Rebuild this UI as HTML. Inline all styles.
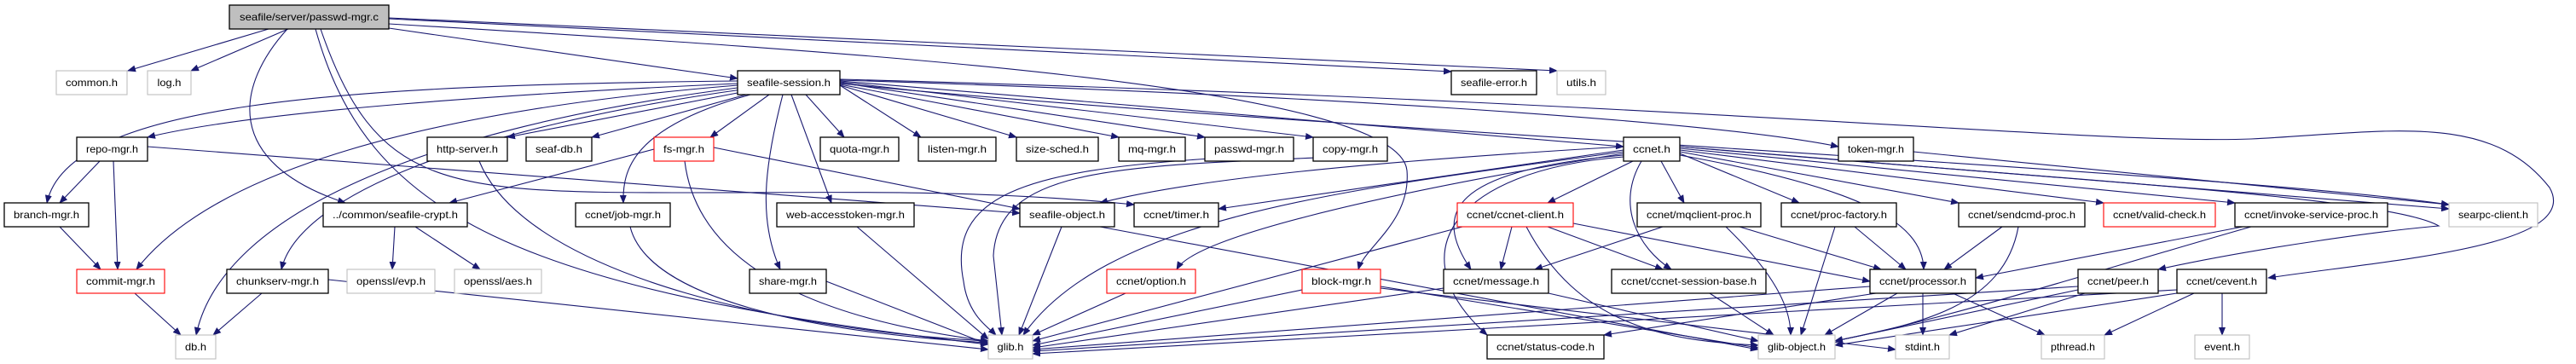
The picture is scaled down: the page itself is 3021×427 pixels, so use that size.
<!DOCTYPE html>
<html><head><meta charset="utf-8"><style>
html,body{margin:0;padding:0;background:#fff;width:3021px;height:427px;overflow:hidden}
svg{display:block}
text{font-family:"Liberation Sans",sans-serif;font-size:12px;fill:#000}
.e{fill:none;stroke:#191970;stroke-width:1.1;marker-end:url(#a)}
.n{fill:#fff;stroke:#000;stroke-width:1.3}
.r{fill:#fff;stroke:#ff0000;stroke-width:1.1}
.g{fill:#fff;stroke:#bfbfbf;stroke-width:1.1}
.m{fill:#bfbfbf;stroke:#000;stroke-width:1.3}
</style></head><body>
<svg width="3021" height="427" viewBox="0 0 3021 427" xmlns="http://www.w3.org/2000/svg">
<defs><marker id="a" markerUnits="userSpaceOnUse" markerWidth="10" markerHeight="8" refX="9" refY="4" orient="auto"><path d="M0,0 L10,4 L0,8 z" fill="#191970"/></marker></defs>
<g>
<path class="e" d="M315,34 L150,83"/>
<path class="e" d="M338,34 L224,83"/>
<path class="e" d="M337,34 C277,100 260,190 405,238"/>
<path class="e" d="M370,34 C430,250 600,340 1159,404"/>
<path class="e" d="M376,34 C440,220 520,226 800,226 C1000,226 1150,222 1330,240"/>
<path class="e" d="M456,33 L865,92"/>
<path class="e" d="M456,22 L1702,84"/>
<path class="e" d="M456,21 L1826,83"/>
<path class="e" d="M456,28 C1000,60 1640,100 1650,200 C1655,260 1600,290 1593,316"/>
<path class="e" d="M865,95 C400,100 80,120 55,238"/>
<path class="e" d="M865,98 C600,110 300,130 173,161"/>
<path class="e" d="M865,100 C500,130 250,200 160,316"/>
<path class="e" d="M865,103 C500,150 260,250 230,393"/>
<path class="e" d="M870,105 C550,150 350,230 330,316"/>
<path class="e" d="M870,108 L595,161"/>
<path class="e" d="M875,111 L694,161"/>
<path class="e" d="M902,111 L833,161"/>
<path class="e" d="M945,111 L990,161"/>
<path class="e" d="M880,111 C740,150 730,200 731,238"/>
<path class="e" d="M928,111 L975,238"/>
<path class="e" d="M918,111 C895,200 890,260 915,316"/>
<path class="e" d="M985,100 L1080,161"/>
<path class="e" d="M985,100 L1192,161"/>
<path class="e" d="M985,99 L1312,161"/>
<path class="e" d="M985,97 L1413,161"/>
<path class="e" d="M985,96 L1540,161"/>
<path class="e" d="M985,95 L1904,172"/>
<path class="e" d="M985,94 C1500,110 2000,140 2156,172"/>
<path class="e" d="M985,98 C1500,150 2600,200 2872,240"/>
<path class="e" d="M985,93 C2000,120 2450,170 2640,163 C2800,155 2920,130 2990,220 C3030,290 2800,305 2660,326"/>
<path class="e" d="M837,173 L1196,245"/>
<path class="e" d="M767,175 L527,238"/>
<path class="e" d="M803,189 C820,330 1000,380 1159,400"/>
<path class="e" d="M173,172 L1196,250"/>
<path class="e" d="M117,189 L70,238"/>
<path class="e" d="M133,189 L138,316"/>
<path class="e" d="M70,266 L118,316"/>
<path class="e" d="M158,344 L212,393"/>
<path class="e" d="M307,344 L250,393"/>
<path class="e" d="M385,328 L1159,410"/>
<path class="e" d="M463,266 L460,316"/>
<path class="e" d="M487,266 L563,316"/>
<path class="e" d="M562,189 C620,330 950,390 1159,400"/>
<path class="e" d="M739,266 C760,350 950,390 1159,402"/>
<path class="e" d="M969,330 L1159,404"/>
<path class="e" d="M1005,266 L1159,398"/>
<path class="e" d="M1245,266 L1195,393"/>
<path class="e" d="M1290,266 L2062,410"/>
<path class="e" d="M1420,186 C1200,200 1110,230 1130,330 C1135,370 1160,385 1168,393"/>
<path class="e" d="M1545,185 C1300,195 1170,200 1165,300 L1175,393"/>
<path class="e" d="M1904,176 L1429,245"/>
<path class="e" d="M1904,172 C1600,190 1400,210 1290,238"/>
<path class="e" d="M1904,180 C1600,230 1400,280 1380,316"/>
<path class="e" d="M1904,178 C1600,220 1300,250 1200,393"/>
<path class="e" d="M1915,189 L1815,238"/>
<path class="e" d="M1948,189 L1975,238"/>
<path class="e" d="M1904,182 C1700,200 1680,250 1725,316"/>
<path class="e" d="M1904,184 C1700,200 1640,300 1744,393"/>
<path class="e" d="M1925,189 C1895,240 1920,290 1960,316"/>
<path class="e" d="M1970,180 L2110,238"/>
<path class="e" d="M1970,178 L2297,238"/>
<path class="e" d="M1970,176 L2467,238"/>
<path class="e" d="M1970,174 L2621,238"/>
<path class="e" d="M1970,182 C2180,220 2255,260 2256,316"/>
<path class="e" d="M1970,172 C2300,200 2700,230 2872,245"/>
<path class="e" d="M1970,172 C2400,210 2800,230 2860,265 C2800,270 2650,290 2531,316"/>
<path class="e" d="M1773,266 L1760,316"/>
<path class="e" d="M1815,266 L1950,316"/>
<path class="e" d="M1845,262 L2193,330"/>
<path class="e" d="M1715,266 L1211,400"/>
<path class="e" d="M1790,266 C1850,380 1950,400 2062,405"/>
<path class="e" d="M1320,344 L1211,393"/>
<path class="e" d="M1527,340 L1211,405"/>
<path class="e" d="M1619,336 L2062,408"/>
<path class="e" d="M1619,338 L2223,410"/>
<path class="e" d="M1693,338 L1211,408"/>
<path class="e" d="M1816,344 L2062,400"/>
<path class="e" d="M1950,266 L1800,316"/>
<path class="e" d="M2040,266 L2206,316"/>
<path class="e" d="M2024,266 C2080,320 2100,360 2100,393"/>
<path class="e" d="M2005,344 L2080,393"/>
<path class="e" d="M2175,266 L2235,316"/>
<path class="e" d="M2152,266 L2112,393"/>
<path class="e" d="M2348,266 L2280,316"/>
<path class="e" d="M2367,266 C2350,360 2250,380 2152,400"/>
<path class="e" d="M2630,266 L2317,326"/>
<path class="e" d="M2640,266 C2450,320 2300,370 2152,400"/>
<path class="e" d="M2193,336 L1211,410"/>
<path class="e" d="M2225,344 L2140,393"/>
<path class="e" d="M2255,344 L2255,393"/>
<path class="e" d="M2290,344 L2398,393"/>
<path class="e" d="M2200,344 L1881,393"/>
<path class="e" d="M2437,336 L1211,412"/>
<path class="e" d="M2437,340 L2152,400"/>
<path class="e" d="M2445,344 L2286,393"/>
<path class="e" d="M2553,340 L1211,415"/>
<path class="e" d="M2553,344 L2152,405"/>
<path class="e" d="M2573,344 L2468,393"/>
<path class="e" d="M2606,344 L2606,393"/>
<path class="e" d="M2244,178 L2872,240"/>
</g>
<g>
<rect class="m" x="269" y="6" width="187" height="28"/><text x="362.5" y="24" text-anchor="middle" textLength="163" lengthAdjust="spacingAndGlyphs">seafile/server/passwd-mgr.c</text>
<rect class="g" x="66" y="83" width="83" height="28"/><text x="107.5" y="101" text-anchor="middle" textLength="61" lengthAdjust="spacingAndGlyphs">common.h</text>
<rect class="g" x="173" y="83" width="51" height="28"/><text x="198.5" y="101" text-anchor="middle" textLength="28" lengthAdjust="spacingAndGlyphs">log.h</text>
<rect class="n" x="865" y="83" width="120" height="28"/><text x="925" y="101" text-anchor="middle" textLength="98" lengthAdjust="spacingAndGlyphs">seafile-session.h</text>
<rect class="n" x="1702" y="83" width="100" height="28"/><text x="1752" y="101" text-anchor="middle" textLength="78" lengthAdjust="spacingAndGlyphs">seafile-error.h</text>
<rect class="g" x="1826" y="83" width="57" height="28"/><text x="1854.5" y="101" text-anchor="middle" textLength="35" lengthAdjust="spacingAndGlyphs">utils.h</text>

<rect class="n" x="90" y="161" width="83" height="28"/><text x="131.5" y="179" text-anchor="middle" textLength="61" lengthAdjust="spacingAndGlyphs">repo-mgr.h</text>
<rect class="n" x="501" y="161" width="94" height="28"/><text x="548" y="179" text-anchor="middle" textLength="72" lengthAdjust="spacingAndGlyphs">http-server.h</text>
<rect class="n" x="617" y="161" width="77" height="28"/><text x="655.5" y="179" text-anchor="middle" textLength="55" lengthAdjust="spacingAndGlyphs">seaf-db.h</text>
<rect class="r" x="767" y="161" width="70" height="28"/><text x="802" y="179" text-anchor="middle" textLength="48" lengthAdjust="spacingAndGlyphs">fs-mgr.h</text>
<rect class="n" x="962" y="161" width="92" height="28"/><text x="1008" y="179" text-anchor="middle" textLength="70" lengthAdjust="spacingAndGlyphs">quota-mgr.h</text>
<rect class="n" x="1077" y="161" width="91" height="28"/><text x="1122.5" y="179" text-anchor="middle" textLength="69" lengthAdjust="spacingAndGlyphs">listen-mgr.h</text>
<rect class="n" x="1192" y="161" width="96" height="28"/><text x="1240" y="179" text-anchor="middle" textLength="74" lengthAdjust="spacingAndGlyphs">size-sched.h</text>
<rect class="n" x="1312" y="161" width="78" height="28"/><text x="1351" y="179" text-anchor="middle" textLength="56" lengthAdjust="spacingAndGlyphs">mq-mgr.h</text>
<rect class="n" x="1413" y="161" width="104" height="28"/><text x="1465" y="179" text-anchor="middle" textLength="82" lengthAdjust="spacingAndGlyphs">passwd-mgr.h</text>
<rect class="n" x="1540" y="161" width="87" height="28"/><text x="1583.5" y="179" text-anchor="middle" textLength="65" lengthAdjust="spacingAndGlyphs">copy-mgr.h</text>
<rect class="n" x="1904" y="161" width="66" height="28"/><text x="1937" y="179" text-anchor="middle" textLength="44" lengthAdjust="spacingAndGlyphs">ccnet.h</text>
<rect class="n" x="2156" y="161" width="88" height="28"/><text x="2200" y="179" text-anchor="middle" textLength="66" lengthAdjust="spacingAndGlyphs">token-mgr.h</text>

<rect class="n" x="5" y="238" width="99" height="28"/><text x="54.5" y="256" text-anchor="middle" textLength="77" lengthAdjust="spacingAndGlyphs">branch-mgr.h</text>
<rect class="n" x="379" y="238" width="169" height="28"/><text x="463.5" y="256" text-anchor="middle" textLength="147" lengthAdjust="spacingAndGlyphs">../common/seafile-crypt.h</text>
<rect class="n" x="675" y="238" width="111" height="28"/><text x="730.5" y="256" text-anchor="middle" textLength="89" lengthAdjust="spacingAndGlyphs">ccnet/job-mgr.h</text>
<rect class="n" x="911" y="238" width="161" height="28"/><text x="991.5" y="256" text-anchor="middle" textLength="139" lengthAdjust="spacingAndGlyphs">web-accesstoken-mgr.h</text>
<rect class="n" x="1196" y="238" width="111" height="28"/><text x="1251.5" y="256" text-anchor="middle" textLength="89" lengthAdjust="spacingAndGlyphs">seafile-object.h</text>
<rect class="n" x="1330" y="238" width="99" height="28"/><text x="1379.5" y="256" text-anchor="middle" textLength="77" lengthAdjust="spacingAndGlyphs">ccnet/timer.h</text>
<rect class="r" x="1709" y="238" width="136" height="28"/><text x="1777" y="256" text-anchor="middle" textLength="114" lengthAdjust="spacingAndGlyphs">ccnet/ccnet-client.h</text>
<rect class="n" x="1920" y="238" width="145" height="28"/><text x="1992.5" y="256" text-anchor="middle" textLength="123" lengthAdjust="spacingAndGlyphs">ccnet/mqclient-proc.h</text>
<rect class="n" x="2089" y="238" width="135" height="28"/><text x="2156.5" y="256" text-anchor="middle" textLength="113" lengthAdjust="spacingAndGlyphs">ccnet/proc-factory.h</text>
<rect class="n" x="2297" y="238" width="148" height="28"/><text x="2371" y="256" text-anchor="middle" textLength="126" lengthAdjust="spacingAndGlyphs">ccnet/sendcmd-proc.h</text>
<rect class="r" x="2467" y="238" width="131" height="28"/><text x="2532.5" y="256" text-anchor="middle" textLength="109" lengthAdjust="spacingAndGlyphs">ccnet/valid-check.h</text>
<rect class="n" x="2621" y="238" width="179" height="28"/><text x="2710.5" y="256" text-anchor="middle" textLength="157" lengthAdjust="spacingAndGlyphs">ccnet/invoke-service-proc.h</text>
<rect class="g" x="2872" y="238" width="104" height="28"/><text x="2924" y="256" text-anchor="middle" textLength="82" lengthAdjust="spacingAndGlyphs">searpc-client.h</text>

<rect class="r" x="90" y="316" width="103" height="28"/><text x="141.5" y="334" text-anchor="middle" textLength="81" lengthAdjust="spacingAndGlyphs">commit-mgr.h</text>
<rect class="n" x="266" y="316" width="119" height="28"/><text x="325.5" y="334" text-anchor="middle" textLength="97" lengthAdjust="spacingAndGlyphs">chunkserv-mgr.h</text>
<rect class="g" x="407" y="316" width="103" height="28"/><text x="458.5" y="334" text-anchor="middle" textLength="81" lengthAdjust="spacingAndGlyphs">openssl/evp.h</text>
<rect class="g" x="533" y="316" width="102" height="28"/><text x="584" y="334" text-anchor="middle" textLength="80" lengthAdjust="spacingAndGlyphs">openssl/aes.h</text>
<rect class="n" x="879" y="316" width="90" height="28"/><text x="924" y="334" text-anchor="middle" textLength="68" lengthAdjust="spacingAndGlyphs">share-mgr.h</text>
<rect class="r" x="1298" y="316" width="104" height="28"/><text x="1350" y="334" text-anchor="middle" textLength="82" lengthAdjust="spacingAndGlyphs">ccnet/option.h</text>
<rect class="r" x="1527" y="316" width="92" height="28"/><text x="1573" y="334" text-anchor="middle" textLength="70" lengthAdjust="spacingAndGlyphs">block-mgr.h</text>
<rect class="n" x="1693" y="316" width="123" height="28"/><text x="1754.5" y="334" text-anchor="middle" textLength="101" lengthAdjust="spacingAndGlyphs">ccnet/message.h</text>
<rect class="n" x="1890" y="316" width="181" height="28"/><text x="1980.5" y="334" text-anchor="middle" textLength="159" lengthAdjust="spacingAndGlyphs">ccnet/ccnet-session-base.h</text>
<rect class="n" x="2193" y="316" width="124" height="28"/><text x="2255" y="334" text-anchor="middle" textLength="102" lengthAdjust="spacingAndGlyphs">ccnet/processor.h</text>
<rect class="n" x="2437" y="316" width="94" height="28"/><text x="2484" y="334" text-anchor="middle" textLength="72" lengthAdjust="spacingAndGlyphs">ccnet/peer.h</text>
<rect class="n" x="2553" y="316" width="105" height="28"/><text x="2605.5" y="334" text-anchor="middle" textLength="83" lengthAdjust="spacingAndGlyphs">ccnet/cevent.h</text>

<rect class="g" x="206" y="393" width="47" height="28"/><text x="229.5" y="411" text-anchor="middle" textLength="25" lengthAdjust="spacingAndGlyphs">db.h</text>
<rect class="g" x="1159" y="393" width="52" height="28"/><text x="1185" y="411" text-anchor="middle" textLength="31" lengthAdjust="spacingAndGlyphs">glib.h</text>
<rect class="n" x="1744" y="393" width="137" height="28"/><text x="1812.5" y="411" text-anchor="middle" textLength="115" lengthAdjust="spacingAndGlyphs">ccnet/status-code.h</text>
<rect class="g" x="2062" y="393" width="90" height="28"/><text x="2107" y="411" text-anchor="middle" textLength="68" lengthAdjust="spacingAndGlyphs">glib-object.h</text>
<rect class="g" x="2223" y="393" width="63" height="28"/><text x="2254.5" y="411" text-anchor="middle" textLength="41" lengthAdjust="spacingAndGlyphs">stdint.h</text>
<rect class="g" x="2394" y="393" width="74" height="28"/><text x="2431" y="411" text-anchor="middle" textLength="52" lengthAdjust="spacingAndGlyphs">pthread.h</text>
<rect class="g" x="2574" y="393" width="64" height="28"/><text x="2606" y="411" text-anchor="middle" textLength="42" lengthAdjust="spacingAndGlyphs">event.h</text>
</g>
</svg>
</body></html>
